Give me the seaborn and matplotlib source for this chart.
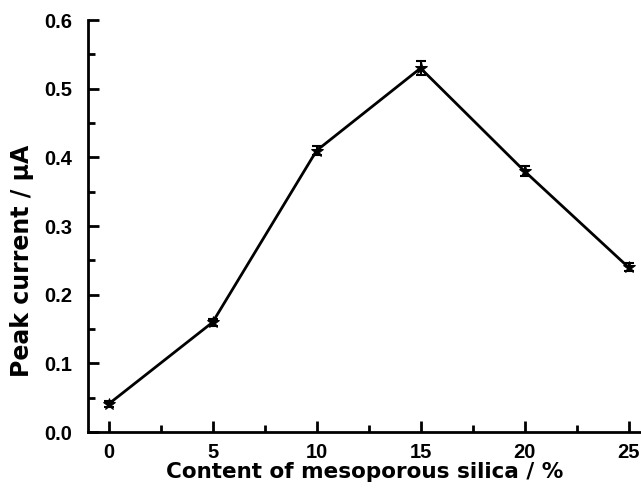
import matplotlib
matplotlib.use("Agg")
import matplotlib.pyplot as plt
from matplotlib.ticker import MultipleLocator, FormatStrFormatter
import seaborn as sns
import pandas as pd

# Silica content (%) and measured peak current (µA) with standard deviations
content = [0, 5, 10, 15, 20, 25]
peak_current = [0.041, 0.160, 0.410, 0.530, 0.380, 0.240]
current_sd = [0.005, 0.005, 0.007, 0.010, 0.007, 0.006]

df = pd.DataFrame({"content": content, "current": peak_current, "sd": current_sd})

sns.set_style("ticks")
plt.rcParams["font.family"] = ["Liberation Sans", "DejaVu Sans"]
plt.rcParams["font.weight"] = "bold"
plt.rcParams["text.color"] = "black"
plt.rcParams["axes.labelcolor"] = "black"
plt.rcParams["xtick.color"] = "black"
plt.rcParams["ytick.color"] = "black"

fig = plt.figure(figsize=(6.41, 4.90), dpi=100)
ax = fig.add_axes([0.137, 0.118, 0.863, 0.841])

sns.lineplot(data=df, x="content", y="current", ax=ax, color="black",
             linewidth=2.0, marker="*", markersize=9, markeredgecolor="black")
ax.errorbar(df["content"], df["current"], yerr=df["sd"], fmt="none",
            ecolor="black", elinewidth=1.5, capsize=3.5, capthick=1.5)

ax.set_xlim(-1, 25.6)
ax.set_ylim(0, 0.6)
ax.xaxis.set_major_locator(MultipleLocator(5))
ax.xaxis.set_minor_locator(MultipleLocator(2.5))
ax.yaxis.set_major_locator(MultipleLocator(0.1))
ax.yaxis.set_minor_locator(MultipleLocator(0.05))
ax.yaxis.set_major_formatter(FormatStrFormatter("%.1f"))

ax.tick_params(which="major", direction="in", length=8, width=2, labelsize=14.5,
               colors="black")
ax.tick_params(axis="y", which="major", pad=11)
ax.tick_params(axis="x", which="major", pad=8)
ax.tick_params(which="minor", direction="in", length=5, width=2, colors="black")
for lbl in ax.get_xticklabels() + ax.get_yticklabels():
    lbl.set_fontweight("bold")

for side in ("top", "right"):
    ax.spines[side].set_visible(False)
for side in ("left", "bottom"):
    ax.spines[side].set_linewidth(2)
    ax.spines[side].set_color("black")

label_font = dict(fontweight="bold", family="DejaVu Sans", color="black")
ax.set_xlabel("Content of mesoporous silica / %", fontsize=15.5, labelpad=0, **label_font)
ax.set_ylabel("Peak current / \u03bcA", fontsize=17, **label_font)
ax.yaxis.set_label_coords(-0.097, 0.415)

fig.savefig("out.png", dpi=100)
